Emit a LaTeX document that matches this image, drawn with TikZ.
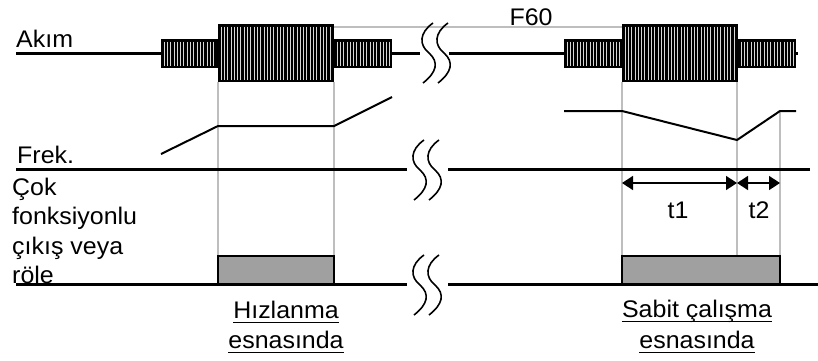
\documentclass[tikz,border=0pt]{standalone}
\usepackage{fontspec}
\setmainfont{Liberation Sans}[FakeStretch=1.04]
\usetikzlibrary{arrows.meta}
\definecolor{guidegray}{RGB}{190,190,190}
\definecolor{relaygray}{RGB}{160,160,160}
\definecolor{stripegray}{RGB}{215,215,215}
\newcommand\hatchblock[4]{%
  \fill[black] (#1,#2) rectangle (#3,#4);
  \pgfmathtruncatemacro\nstripes{(#3-#1-5)/3.3}%
  \foreach \k in {0,...,\nstripes}{%
    \draw[stripegray,line width=0.75pt] ({#1+3+3.3*\k},{#2+2.5}) -- ({#1+3+3.3*\k},{#4-2.5});
  }%
}
\newcommand\squig[2]{%
  \draw[squigline] (#1,#2) .. controls ({#1-14},{#2+10}) and ({#1-14},{#2+22}) .. ({#1-4},{#2+30})
     .. controls ({#1+6},{#2+39}) and ({#1+4},{#2+49}) .. ({#1-10},{#2+60});
  \draw[squigline] ({#1+15},#2) .. controls ({#1+1},{#2+10}) and ({#1+1},{#2+22}) .. ({#1+11},{#2+30})
     .. controls ({#1+21},{#2+39}) and ({#1+19},{#2+49}) .. ({#1+5},{#2+60});
}
\tikzset{
  mainline/.style={line width=3pt},
  freqline/.style={line width=2pt, line join=miter},
  guide/.style={guidegray, line width=1.5pt},
  squigline/.style={line width=1.6pt},
  relaybox/.style={fill=relaygray, draw=black, line width=1.5pt},
  dimarrow/.style={line width=1.5pt, {Triangle[length=11pt,width=14pt]}-{Triangle[length=11pt,width=14pt]}},
  lbl/.style={inner sep=0pt, font=\fontsize{24}{29}\selectfont},
  ul/.style={line width=1pt}
}
\begin{document}
\begin{tikzpicture}[x=1pt,y=-1pt]
\useasboundingbox (0,0) rectangle (818,360);

% guide lines
\draw[guide] (218,82) -- (218,256);
\draw[guide] (334,82) -- (334,256);
\draw[guide] (622,82) -- (622,256);
\draw[guide] (737,82) -- (737,256);
\draw[guide] (780,111) -- (780,256);
\draw[guide] (334,27) -- (622,27);

% current row
\draw[mainline] (16,53) -- (420,53);
\draw[mainline] (449,53) -- (798,53);
\hatchblock{161}{39}{218}{68}
\hatchblock{334}{39}{392}{68}
\hatchblock{218}{24}{334}{82}
\hatchblock{564}{39}{622}{68}
\hatchblock{738}{39}{796}{68}
\hatchblock{622}{24}{738}{82}
\squig{433}{23}

% frequency
\draw[freqline] (161,154) -- (218,126) -- (334,126) -- (392,97);
\draw[freqline] (564,111) -- (622,111) -- (737,140) -- (780,111) -- (796,111);
\draw[mainline] (16,169) -- (407,169);
\draw[mainline] (448,169) -- (810,169);
\squig{424}{140}

% time arrows
\coordinate (a0) at (622,183);
\coordinate (a1) at (737,183);
\coordinate (a2) at (780,183);
\draw[dimarrow] (a0) -- (a1);
\draw[dimarrow] (a1) -- (a2);

% relay
\draw[relaybox] (218,256) rectangle (334,284);
\draw[relaybox] (622,256) rectangle (780,284);
\draw[mainline] (16,284) -- (407,284);
\draw[mainline] (448,284) -- (818,284);
\squig{424}{255}

% labels
\node[lbl, anchor=base west] (akim) at (16,47) {Akım};
\node[lbl, anchor=base west] (frek) at (17,163) {Frek.};
\node[lbl, anchor=base] (f60) at (531,25) {F60};
\node[lbl, anchor=base west] (l1) at (12,195) {Çok};
\node[lbl, anchor=base west] (l2) at (12,224) {fonksiyonlu};
\node[lbl, anchor=base west] (l3) at (12,254) {çıkış veya};
\node[lbl, anchor=base west] (l4) at (12,283) {röle};
\node[lbl, anchor=base] (t1) at (678,218) {t1};
\node[lbl, anchor=base] (t2) at (759,218) {t2};
\node[lbl, anchor=base] (h1) at (286,318) {Hızlanma};
\node[lbl, anchor=base] (h2) at (286,348) {esnasında};
\node[lbl, anchor=base] (s1) at (697,317) {Sabit çalışma};
\node[lbl, anchor=base] (s2) at (697,348) {esnasında};
\foreach \n in {h1,h2,s1,s2}{
  \draw[ul] ([yshift=-4pt]\n.base west) -- ([yshift=-4pt]\n.base east);
}
\end{tikzpicture}
\end{document}
